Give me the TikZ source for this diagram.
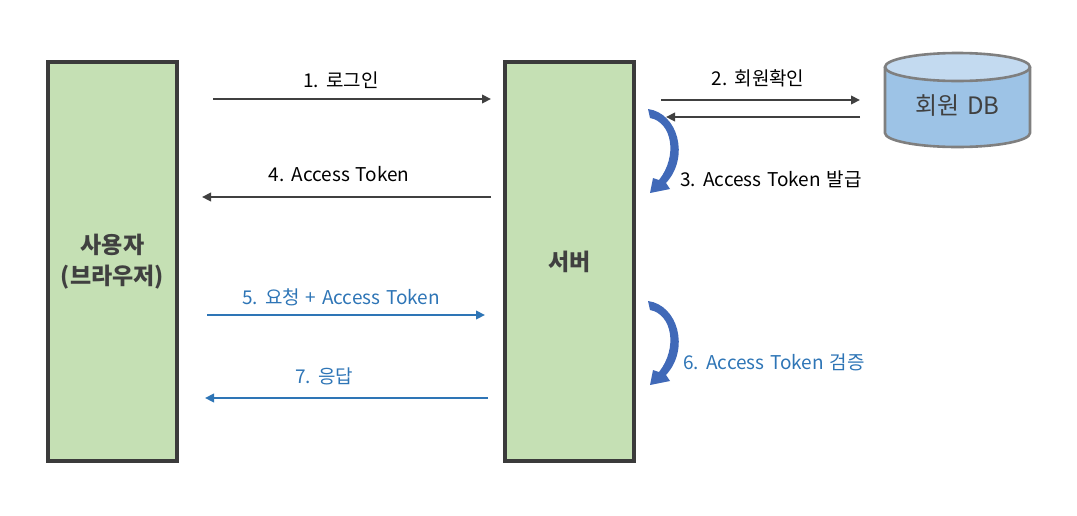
\documentclass[tikz,border=0pt]{standalone}
\usepackage{fontspec}
\setmainfont[WordSpace=1.35]{Noto Sans CJK KR}
\usetikzlibrary{arrows.meta}
\definecolor{boxfill}{HTML}{C5E0B4}
\definecolor{boxline}{HTML}{3B3B3B}
\definecolor{darkarrow}{HTML}{404040}
\definecolor{bluearrow}{HTML}{2E75B6}
\definecolor{curlcol}{HTML}{4069B8}
\definecolor{dbbody}{HTML}{9DC3E6}
\definecolor{dbtop}{HTML}{C3DAF0}
\definecolor{dbline}{HTML}{7F7F7F}
\definecolor{labeltext}{HTML}{404040}
\tikzset{
  actor/.style={draw=boxline, line width=4pt, fill=boxfill, minimum width=129pt, minimum height=399pt, inner sep=0pt, align=center, font=\bfseries\fontsize{23}{31}\selectfont, text=labeltext},
  msg/.style={line width=2.6pt, -{Triangle[length=9pt,width=8.5pt]}},
  blackmsg/.style={msg, draw=darkarrow},
  bluemsg/.style={msg, draw=bluearrow},
  lbl/.style={font=\fontsize{19}{23}\selectfont, inner sep=0pt},
  curl/.pic={
    \fill[curlcol] (0,0) .. controls (30,4) and (42,48) .. (18,74)
      -- (22,80) -- (2,84) -- (5,69) -- (11,71)
      .. controls (30,47) and (24,13) .. (2,9) -- cycle;
  }
}
\begin{document}
\begin{tikzpicture}[x=1pt,y=-1pt]
\useasboundingbox (0,0) rectangle (1077,515);
% actors
\node[actor] (user) at (112.5,261.5) {사용자\\(브라우저)};
\node[actor] (server) at (569.5,261.5) {서버};
% database cylinder
\fill[dbbody] (885,67) -- (885,133) arc[start angle=180, end angle=0, x radius=72.5, y radius=14] -- (1030,67) -- cycle;
\fill[dbtop] (957.5,67) ellipse[x radius=72.5, y radius=14];
\draw[dbline, line width=2.6pt] (957.5,67) ellipse[x radius=72.5, y radius=14];
\draw[dbline, line width=2.6pt] (885,67) -- (885,133) arc[start angle=180, end angle=0, x radius=72.5, y radius=14] -- (1030,67);
\node[font=\fontsize{24}{28}\selectfont, text=labeltext, inner sep=0pt] (db) at (957.5,106) {회원 DB};
% coordinates
\coordinate (a1s) at (213,99);  \coordinate (a1e) at (491,99);
\coordinate (a2s) at (661,100); \coordinate (a2e) at (860,100);
\coordinate (r2s) at (860,117); \coordinate (r2e) at (666,117);
\coordinate (a4s) at (491,197); \coordinate (a4e) at (202,197);
\coordinate (a5s) at (207,315); \coordinate (a5e) at (485,315);
\coordinate (a7s) at (488,398); \coordinate (a7e) at (205,398);
% messages
\draw[blackmsg] (a1s) -- (a1e);
\draw[blackmsg] (a2s) -- (a2e);
\draw[blackmsg] (r2s) -- (r2e);
\draw[blackmsg] (a4s) -- (a4e);
\draw[bluemsg] (a5s) -- (a5e);
\draw[bluemsg] (a7s) -- (a7e);
% curved self arrows
\pic at (648,109) {curl};
\pic at (648,301) {curl};
% labels
\node[lbl] (l1) at (341,80) {1. 로그인};
\node[lbl] (l2) at (758,78) {2. 회원확인};
\node[lbl] (l4) at (339,174) {4. Access Token};
\node[lbl, text=bluearrow] (l5) at (341,297) {5. 요청 + Access Token};
\node[lbl, text=bluearrow] (l7) at (324,376) {7. 응답};
\node[lbl, anchor=west] (l3) at (680,179) {3. Access Token 발급};
\node[lbl, anchor=west, text=bluearrow] (l6) at (683,362) {6. Access Token 검증};
\end{tikzpicture}
\end{document}
